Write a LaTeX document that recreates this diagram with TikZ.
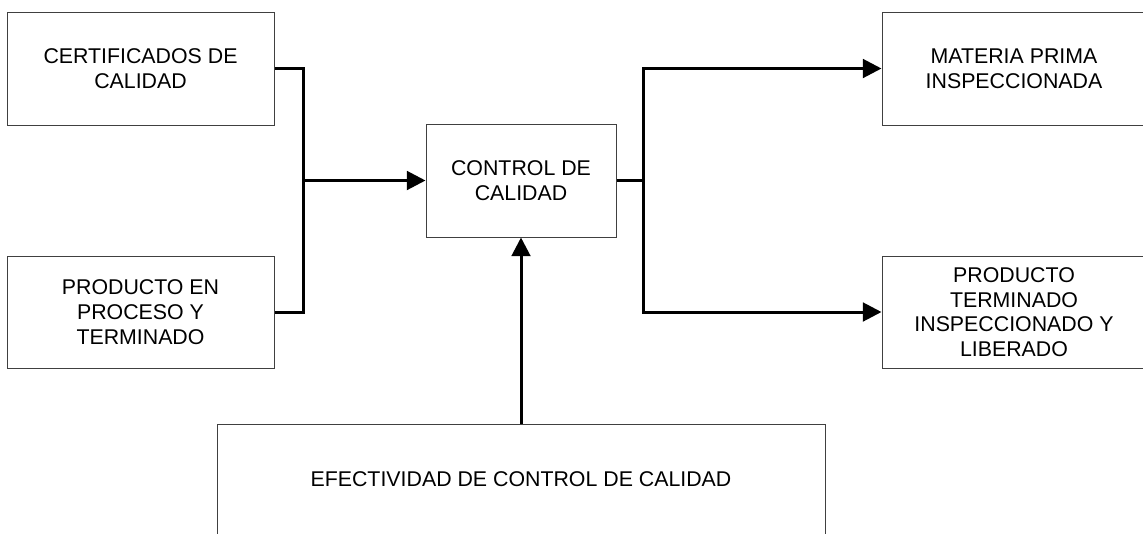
\documentclass[tikz,border=0pt]{standalone}
\usepackage{fontspec}
\setmainfont{Liberation Sans}
\usetikzlibrary{arrows.meta}
\begin{document}
\begin{tikzpicture}[x=0.75pt,y=-0.75pt,
  box/.style={draw=black!75, line width=0.75pt, align=center, inner sep=0pt,
    font=\fontsize{16}{18.5}\selectfont},
  conn/.style={line width=2.25pt},
  arr/.style={conn, -{Triangle[length=14pt,width=14pt]}}]
\useasboundingbox (0,0) rectangle (1143,533);
\node[box, minimum width=200.25pt, minimum height=84.75pt] (cert) at (140.5,68.5) {CERTIFICADOS DE\\CALIDAD};
\node[box, minimum width=200.25pt, minimum height=84pt] (prod) at (140.5,312) {PRODUCTO EN\\PROCESO Y\\TERMINADO};
\node[box, minimum width=142.5pt, minimum height=84.75pt] (ctrl) at (521,180.5) {CONTROL DE\\CALIDAD};
\node[box, minimum width=198pt, minimum height=84.75pt] (mat) at (1014,68.5) {MATERIA PRIMA\\INSPECCIONADA};
\node[box, minimum width=198pt, minimum height=84pt] (term) at (1014,312) {PRODUCTO\\TERMINADO\\INSPECCIONADO Y\\LIBERADO};
\node[box, minimum width=456pt, minimum height=83.25pt] (efec) at (521,479.5) {EFECTIVIDAD DE CONTROL DE CALIDAD};
\coordinate (lt) at (303,68.5);
\coordinate (lb) at (303,312);
\coordinate (rt) at (643,180.5);
\draw[conn] (cert.east) -- (lt) -- (lb) -- (prod.east);
\draw[arr] (ctrl.west -| lt) -- (ctrl.west);
\draw[conn] (ctrl.east) -- (rt);
\draw[arr] (rt) |- (mat.west);
\draw[arr] (rt) |- (term.west);
\draw[arr] (efec.north) -- (ctrl.south);
\end{tikzpicture}
\end{document}
